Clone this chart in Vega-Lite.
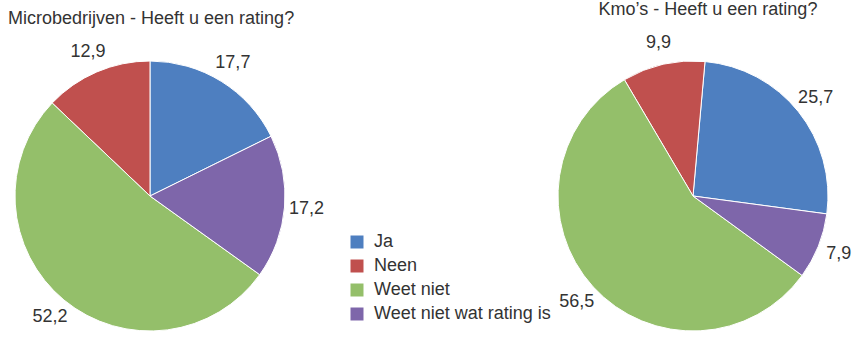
{
  "$schema": "https://vega.github.io/schema/vega-lite/v6.json",
  "padding": 0,
  "bounds": "flush",
  "spacing": 243,
  "config": {
    "view": {"stroke": null},
    "font": "Liberation Sans",
    "locale": {"number": {"decimal": ",", "thousands": ".", "grouping": [3], "currency": ["€", ""]}},
    "title": {"fontSize": 18, "fontWeight": "normal", "color": "#333333", "font": "Liberation Sans"}
  },
  "resolve": {"scale": {"theta": "independent", "color": "shared"}},
  "hconcat": [
    {
      "title": {"text": "Microbedrijven - Heeft u een rating?", "anchor": "start", "dx": 8, "offset": 15},
      "width": 300,
      "height": 290,
      "data": {"values": [
        {"categorie": "Ja", "percentage": 17.7},
        {"categorie": "Neen", "percentage": 12.9},
        {"categorie": "Weet niet", "percentage": 52.2},
        {"categorie": "Weet niet wat rating is", "percentage": 17.2}
      ]},
      "encoding": {
        "theta": {"field": "percentage", "type": "quantitative", "stack": true, "scale": {"range": [-5.1711, 1.1121]}},
        "order": {"field": "categorie", "type": "nominal", "sort": "descending"}
      },
      "layer": [
        {
          "mark": {"type": "arc", "outerRadius": 135, "stroke": "white", "strokeWidth": 1},
          "encoding": {
            "color": {
              "field": "categorie", "type": "nominal",
              "scale": {"domain": ["Ja", "Neen", "Weet niet", "Weet niet wat rating is"], "range": ["#4E7FC0", "#C0504E", "#94BF6A", "#7E66AA"]},
              "legend": {"orient": "none", "legendX": 348, "legendY": 182, "title": null, "symbolType": "square", "symbolSize": 169, "symbolStrokeWidth": 0, "labelFontSize": 18, "labelColor": "#333333", "labelFont": "Liberation Sans", "labelLimit": 400, "rowPadding": 6, "labelOffset": 8, "padding": 0}
            }
          }
        },
        {
          "mark": {"type": "text", "radius": 157, "fontSize": 18, "color": "#333333"},
          "encoding": {
            "text": {"field": "percentage", "type": "quantitative", "format": ".1f"},
            "detail": {"field": "categorie", "type": "nominal"}
          }
        }
      ]
    },
    {
      "title": {"text": "Kmo’s - Heeft u een rating?", "anchor": "middle", "dx": 15, "offset": 15},
      "width": 300,
      "height": 290,
      "data": {"values": [
        {"categorie": "Ja", "percentage": 25.7},
        {"categorie": "Neen", "percentage": 9.9},
        {"categorie": "Weet niet", "percentage": 56.5},
        {"categorie": "Weet niet wat rating is", "percentage": 7.9}
      ]},
      "encoding": {
        "theta": {"field": "percentage", "type": "quantitative", "stack": true, "scale": {"range": [-4.5794, 1.7038]}},
        "order": {"field": "categorie", "type": "nominal", "sort": "descending"}
      },
      "layer": [
        {
          "mark": {"type": "arc", "outerRadius": 135, "stroke": "white", "strokeWidth": 1},
          "encoding": {
            "color": {
              "field": "categorie", "type": "nominal",
              "scale": {"domain": ["Ja", "Neen", "Weet niet", "Weet niet wat rating is"], "range": ["#4E7FC0", "#C0504E", "#94BF6A", "#7E66AA"]},
              "legend": {"orient": "none", "legendX": 348, "legendY": 182, "title": null, "symbolType": "square", "symbolSize": 169, "symbolStrokeWidth": 0, "labelFontSize": 18, "labelColor": "#333333", "labelFont": "Liberation Sans", "labelLimit": 400, "rowPadding": 6, "labelOffset": 8, "padding": 0}
            }
          }
        },
        {
          "mark": {"type": "text", "radius": 157, "fontSize": 18, "color": "#333333"},
          "encoding": {
            "text": {"field": "percentage", "type": "quantitative", "format": ".1f"},
            "detail": {"field": "categorie", "type": "nominal"}
          }
        }
      ]
    }
  ]
}
